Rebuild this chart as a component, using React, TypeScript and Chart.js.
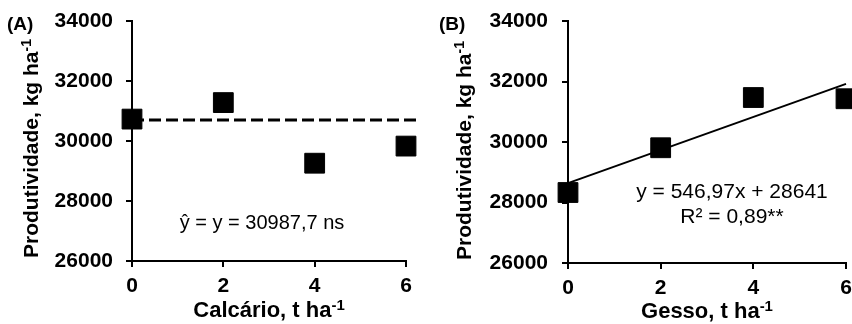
import React, { useEffect, useRef } from "react";
import { Chart, registerables } from "chart.js";
Chart.register(...registerables);

// ---- data ----
const doses = [0, 2, 4, 6];
const calcarioYield = [30730, 31280, 29260, 29830];
const gessoYield = [28330, 29810, 31470, 31430];
const calcarioFitX = [0, 6.3];
const calcarioFitY = [30700, 30700];
const gessoFitX = [0, 6];
const gessoFitY = [28641, 31923];
const yTickValues = [26000, 28000, 30000, 32000, 34000];
const xTickValues = [0, 2, 4, 6];

const FONT = '"Liberation Sans", Arial, Helvetica, sans-serif';

type PanelCfg = {
  label: string;
  labelX: number;
  yTitleX: number;
  yTitleStart: number;
  xTitleMain: string;
  xTitleBaseline: number;
  eqLines: string[];
  eqX: number;
  eqBaselines: number[];
  eqSize: number;
  axisWidth: number;
  padRight: number;
  xAxisHeight: number;
  yTickPad: number;
};

function drawSup(
  ctx: CanvasRenderingContext2D,
  main: string,
  sup: string,
  x: number,
  y: number,
  mainSize: number,
  supSize: number,
  center: boolean
) {
  const mf = `bold ${mainSize}px ${FONT}`;
  const sf = `bold ${supSize}px ${FONT}`;
  ctx.font = mf;
  const w1 = ctx.measureText(main).width;
  ctx.font = sf;
  const w2 = ctx.measureText(sup).width;
  const start = center ? x - (w1 + w2) / 2 : x;
  ctx.textAlign = "left";
  ctx.textBaseline = "alphabetic";
  ctx.font = mf;
  ctx.fillText(main, start, y);
  ctx.font = sf;
  ctx.fillText(sup, start + w1, y - mainSize * 0.33);
}

function makeTextPlugin(cfg: PanelCfg) {
  return {
    id: "panelText",
    afterDraw(chart: any) {
      const ctx: CanvasRenderingContext2D = chart.ctx;
      const area = chart.chartArea;
      ctx.save();
      ctx.fillStyle = "#000";
      // panel label
      ctx.font = `bold 19px ${FONT}`;
      ctx.textAlign = "left";
      ctx.textBaseline = "alphabetic";
      ctx.fillText(cfg.label, cfg.labelX, 30);
      // y title
      ctx.save();
      ctx.translate(cfg.yTitleX, cfg.yTitleStart);
      ctx.rotate(-Math.PI / 2);
      drawSup(ctx, "Produtividade, kg ha", "-1", 0, 0, 21, 14, false);
      ctx.restore();
      // x title
      drawSup(
        ctx,
        cfg.xTitleMain,
        "-1",
        (area.left + area.right) / 2,
        cfg.xTitleBaseline,
        22,
        15,
        true
      );
      // equation
      ctx.font = `${cfg.eqSize}px ${FONT}`;
      ctx.textAlign = "center";
      ctx.textBaseline = "alphabetic";
      cfg.eqLines.forEach((t, i) => ctx.fillText(t, cfg.eqX, cfg.eqBaselines[i]));
      ctx.restore();
    },
  };
}

function makeConfig(
  cfg: PanelCfg,
  ys: number[],
  fitX: number[],
  fitY: number[],
  dashed: boolean
): any {
  return {
    type: "scatter",
    data: {
      datasets: [
        {
          data: doses.map((x, i) => ({ x, y: ys[i] })),
          pointStyle: "rect",
          pointRadius: 14,
          pointHoverRadius: 14,
          backgroundColor: "#000",
          borderColor: "#000",
          borderWidth: 1,
          showLine: false,
          clip: false,
        },
        {
          data: fitX.map((x, i) => ({ x, y: fitY[i] })),
          showLine: true,
          pointRadius: 0,
          borderColor: "#000",
          borderWidth: dashed ? 3 : 2,
          borderDash: dashed ? [12, 5] : [],
          clip: false,
        },
      ],
    },
    options: {
      responsive: false,
      maintainAspectRatio: false,
      animation: false,
      events: [],
      layout: {
        autoPadding: false,
        padding: { left: 0, top: 21, right: cfg.padRight, bottom: 0 },
      },
      plugins: { legend: { display: false }, tooltip: { enabled: false } },
      scales: {
        x: {
          type: "linear",
          min: 0,
          max: 6,
          afterBuildTicks: (s: any) => {
            s.ticks = xTickValues.map((v) => ({ value: v }));
          },
          afterFit: (s: any) => {
            s.height = cfg.xAxisHeight;
            s.paddingLeft = 0;
            s.paddingRight = 0;
          },
          ticks: {
            color: "#000",
            padding: 7,
            font: { family: FONT, size: 21, weight: "bold" },
          },
          grid: {
            drawOnChartArea: false,
            drawTicks: true,
            tickLength: 6,
            color: "#000",
            lineWidth: 2,
          },
          border: { display: true, color: "#000", width: 2 },
        },
        y: {
          type: "linear",
          min: 26000,
          max: 34000,
          afterBuildTicks: (s: any) => {
            s.ticks = yTickValues.map((v) => ({ value: v }));
          },
          afterFit: (s: any) => {
            s.width = cfg.axisWidth;
            s.paddingTop = 0;
            s.paddingBottom = 0;
          },
          ticks: {
            color: "#000",
            padding: cfg.yTickPad,
            font: { family: FONT, size: 21, weight: "bold" },
            callback: (v: any) => String(v),
          },
          grid: {
            drawOnChartArea: false,
            drawTicks: true,
            tickLength: 6,
            color: "#000",
            lineWidth: 2,
          },
          border: { display: true, color: "#000", width: 2 },
        },
      },
    },
    plugins: [makeTextPlugin(cfg)],
  };
}

const cfgA: PanelCfg = {
  label: "(A)",
  labelX: 7,
  yTitleX: 38,
  yTitleStart: 258,
  xTitleMain: "Calcário, t ha",
  xTitleBaseline: 317,
  eqLines: ["ŷ = y = 30987,7 ns"],
  eqX: 262,
  eqBaselines: [229],
  eqSize: 20,
  axisWidth: 132,
  padRight: 20,
  xAxisHeight: 63,
  yTickPad: 13,
};

const cfgB: PanelCfg = {
  label: "(B)",
  labelX: 13,
  yTitleX: 45,
  yTitleStart: 260,
  xTitleMain: "Gesso, t ha",
  xTitleBaseline: 318,
  eqLines: ["y = 546,97x + 28641", "R² = 0,89**"],
  eqX: 306,
  eqBaselines: [198, 223],
  eqSize: 21,
  axisWidth: 142,
  padRight: 6,
  xAxisHeight: 61,
  yTickPad: 14,
};

export default function App() {
  const refA = useRef<HTMLCanvasElement>(null);
  const refB = useRef<HTMLCanvasElement>(null);

  useEffect(() => {
    const a = new Chart(refA.current as HTMLCanvasElement, makeConfig(cfgA, calcarioYield, calcarioFitX, calcarioFitY, true));
    const b = new Chart(refB.current as HTMLCanvasElement, makeConfig(cfgB, gessoYield, gessoFitX, gessoFitY, false));
    return () => {
      a.destroy();
      b.destroy();
    };
  }, []);

  return (
    <div
      style={{
        position: "fixed",
        left: 0,
        top: 0,
        width: 852,
        height: 324,
        overflow: "hidden",
        background: "#fff",
      }}
    >
      <canvas ref={refA} width={426} height={324} style={{ position: "absolute", left: 0, top: 0 }} />
      <canvas ref={refB} width={426} height={324} style={{ position: "absolute", left: 426, top: 0 }} />
    </div>
  );
}
